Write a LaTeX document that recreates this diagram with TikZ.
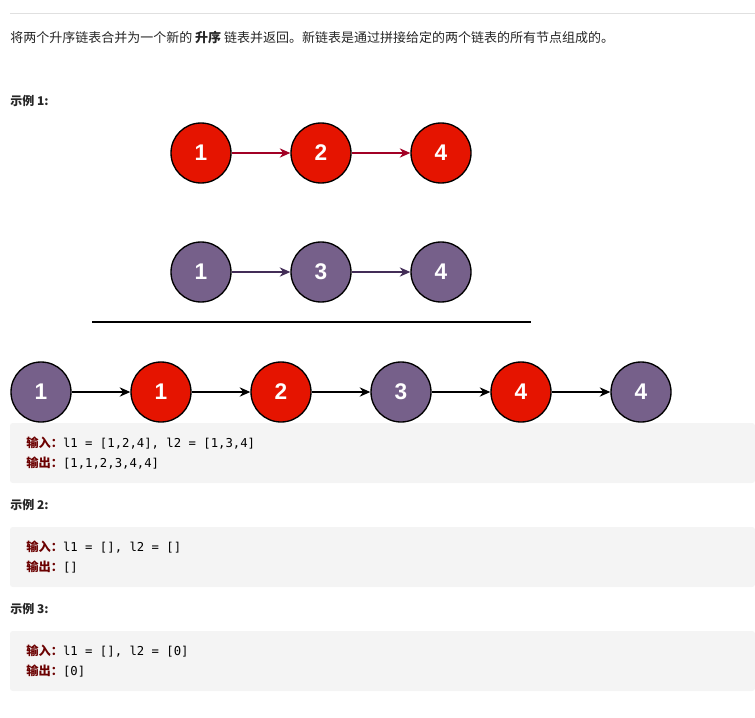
\documentclass[tikz,border=0pt]{standalone}
\usepackage{fontspec}
\setmainfont{Noto Sans CJK SC}
\newfontfamily\cjk{Noto Sans CJK SC}
\newfontfamily\monof{DejaVu Sans Mono}
\newfontfamily\lab{Liberation Sans}
\usetikzlibrary{arrows.meta}
\definecolor{nred}{HTML}{E51400}
\definecolor{npur}{HTML}{76608A}
\definecolor{ared}{HTML}{A20025}
\definecolor{apur}{HTML}{432D57}
\definecolor{codebg}{HTML}{F4F4F4}
\definecolor{kw}{HTML}{6B0000}
\tikzset{
 ln/.style={circle,draw=black,line width=1pt,minimum size=45pt,inner sep=0pt,text=white,font=\lab\fontsize{17}{17}\selectfont\bfseries},
 rn/.style={ln,fill=nred},
 pn/.style={ln,fill=npur},
 arr/.style={line width=1pt,-{Stealth[length=8pt,width=7pt]}},
 txt/.style={anchor=west,inner sep=0pt,font=\cjk\fontsize{9.75}{9.75}\selectfont,text=black!85},
 hd/.style={txt,font=\cjk\fontsize{9}{9}\selectfont\bfseries},
 code/.style={anchor=west,inner sep=0pt,font=\fontsize{9.2}{9.2}\selectfont}
}
\begin{document}
\begin{tikzpicture}[x=0.75pt,y=-0.75pt]
\useasboundingbox (0,0) rectangle (755,717);
\draw[black!12,line width=0.75pt] (10,14) -- (755,14);
\node[txt] (t1) at (10,38) {将两个升序链表合并为一个新的 {\bfseries 升序} 链表并返回。新链表是通过拼接给定的两个链表的所有节点组成的。};
\node[hd] (h1) at (10,101) {示例 1:};
\node[rn] (a1) at (201,153) {1};
\node[rn] (a2) at (321,153) {2};
\node[rn] (a3) at (441,153) {4};
\draw[arr,ared] (a1) -- (a2); \draw[arr,ared] (a2) -- (a3);
\node[pn] (b1) at (201,272) {1};
\node[pn] (b2) at (321,272) {3};
\node[pn] (b3) at (441,272) {4};
\draw[arr,apur] (b1) -- (b2); \draw[arr,apur] (b2) -- (b3);
\draw[line width=1.5pt] (92,322) -- (531,322);
\node[pn] (c1) at (41,392) {1};
\node[rn] (c2) at (161,392) {1};
\node[rn] (c3) at (281,392) {2};
\node[pn] (c4) at (401,392) {3};
\node[rn] (c5) at (521,392) {4};
\node[pn] (c6) at (641,392) {4};
\foreach \i/\j in {c1/c2,c2/c3,c3/c4,c4/c5,c5/c6} \draw[arr] (\i) -- (\j);
\fill[codebg,rounded corners=2pt] (10,423) rectangle (755,483);
\fill[codebg,rounded corners=2pt] (10,527) rectangle (755,587);
\fill[codebg,rounded corners=2pt] (10,631) rectangle (755,691);
\node[code] (i1) at (26,443) {{\cjk\bfseries\color{kw}输入：}{\monof l1 = [1,2,4], l2 = [1,3,4]}};
\node[code] (o1) at (26,463) {{\cjk\bfseries\color{kw}输出：}{\monof [1,1,2,3,4,4]}};
\node[hd] (h2) at (10,505) {示例 2:};
\node[code] (i2) at (26,547) {{\cjk\bfseries\color{kw}输入：}{\monof l1 = [], l2 = []}};
\node[code] (o2) at (26,567) {{\cjk\bfseries\color{kw}输出：}{\monof []}};
\node[hd] (h3) at (10,609) {示例 3:};
\node[code] (i3) at (26,651) {{\cjk\bfseries\color{kw}输入：}{\monof l1 = [], l2 = [0]}};
\node[code] (o3) at (26,671) {{\cjk\bfseries\color{kw}输出：}{\monof [0]}};
\end{tikzpicture}
\end{document}
